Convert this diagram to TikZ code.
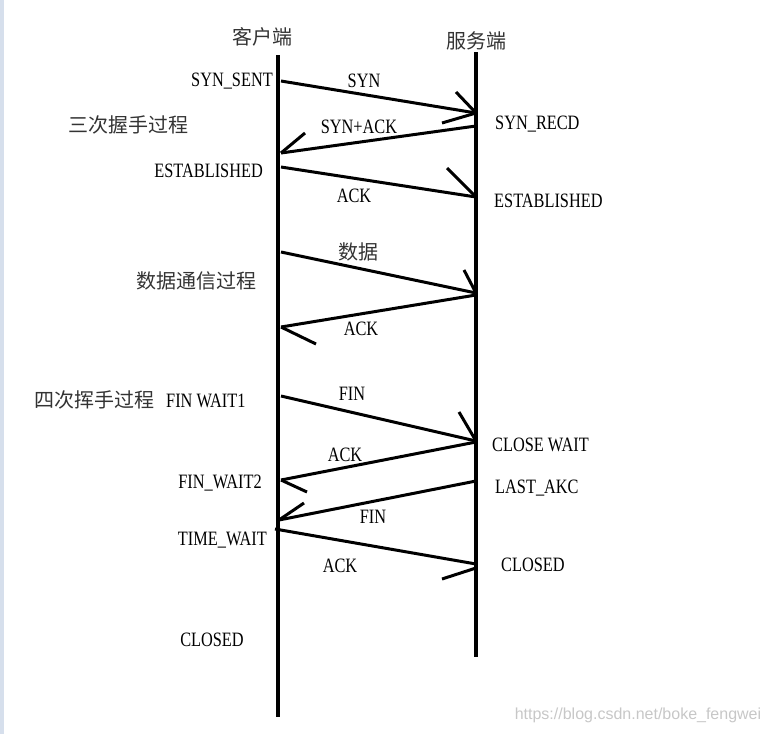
\documentclass[tikz,border=0pt]{standalone}
\usepackage{fontspec}
\newfontfamily\latinfont[FakeStretch=0.8]{Liberation Serif}
\newfontfamily\cjkfont{Noto Sans CJK SC}
\newfontfamily\markfont{Liberation Sans}
\definecolor{stripblue}{RGB}{214,223,236}
\begin{document}
\begin{tikzpicture}[x=1pt, y=-1pt,
    every node/.style={inner sep=0pt, font=\latinfont\fontsize{20.4}{24}\selectfont},
    life/.style={line width=3.6pt},
    msg/.style={line width=3pt},
    cjk/.style={font=\cjkfont\fontsize{20}{24}\selectfont, text=black!80}]
    \useasboundingbox (0,0) rectangle (768,734);
    \fill[stripblue] (0,0) rectangle (4,734);

    % lifelines
    \coordinate (Ctop) at (278,55);
    \coordinate (Cbot) at (278,717);
    \coordinate (Stop) at (476,52);
    \coordinate (Sbot) at (476,657);
    \draw[life] (Ctop) -- (Cbot);
    \draw[life] (Stop) -- (Sbot);
    \node[cjk] (client) at (262,37) {客户端};
    \node[cjk] (server) at (476,41) {服务端};

    % handshake
    \coordinate (c1) at (281,81);  \coordinate (s1) at (476,113);
    \coordinate (s2) at (476,126); \coordinate (c2) at (281,153);
    \coordinate (c3) at (281,167); \coordinate (s3) at (476,197);
    \draw[msg] (c1) -- (s1);
    \draw[msg] (s1) -- ++(-20,-21);
    \draw[msg] (s1) -- ++(-34,10);
    \draw[msg] (s2) -- (c2);
    \draw[msg] (c2) -- ++(24,-20);
    \draw[msg] (c3) -- (s3);
    \draw[msg] (s3) -- ++(-29,-29);
    \node[anchor=base east] (synsent) at (273,86) {SYN\_SENT};
    \node[anchor=base] (syn) at (364,87) {SYN};
    \node[cjk] (three) at (128,125) {三次握手过程};
    \node[anchor=base] (synack) at (359,133) {SYN+ACK};
    \node[anchor=base west] (synrecd) at (495,129) {SYN\_RECD};
    \node[anchor=base east] (estabc) at (263,177) {ESTABLISHED};
    \node[anchor=base] (ack1) at (354,202) {ACK};
    \node[anchor=base west] (estabs) at (494,207) {ESTABLISHED};

    % data
    \coordinate (c4) at (281,252); \coordinate (s4) at (476,293);
    \coordinate (s5) at (476,295); \coordinate (c5) at (281,327);
    \draw[msg] (c4) -- (s4);
    \draw[msg] (s4) -- ++(-12,-23);
    \draw[msg] (s5) -- (c5);
    \draw[msg] (c5) -- ++(35,17);
    \node[cjk] (data) at (358,252) {数据};
    \node[cjk] (datacomm) at (196,281) {数据通信过程};
    \node[anchor=base] (ack2) at (361,335) {ACK};

    % teardown
    \coordinate (c6) at (281,396); \coordinate (s6) at (476,441);
    \coordinate (s7) at (476,442); \coordinate (c7) at (281,480);
    \coordinate (s8) at (476,481); \coordinate (c8) at (279,520);
    \coordinate (c9) at (275,529); \coordinate (s9) at (476,564);
    \draw[msg] (c6) -- (s6);
    \draw[msg] (s6) -- ++(-17,-29);
    \draw[msg] (s7) -- (c7);
    \draw[msg] (c7) -- ++(26,12);
    \draw[msg] (s8) -- (c8);
    \draw[msg] (c8) -- ++(25,-17);
    \draw[msg] (c9) -- (s9);
    \draw[msg] ([yshift=-4pt]s9) -- ++(-34,11);
    \node[anchor=base west] (four) at (34,407)
        {{\color{black!80}\cjkfont\fontsize{20}{24}\selectfont 四次挥手过程}\hspace{12pt}FIN WAIT1};
    \node[anchor=base] (fin1) at (352,400) {FIN};
    \node[anchor=base west] (closewait) at (492,451) {CLOSE WAIT};
    \node[anchor=base] (ack3) at (345,461) {ACK};
    \node[anchor=base east] (finwait) at (262,488) {FIN\_WAIT2};
    \node[anchor=base west] (lastack) at (495,493) {LAST\_AKC};
    \node[anchor=base] (fin2) at (373,523) {FIN};
    \node[anchor=base east] (timewait) at (267,545) {TIME\_WAIT};
    \node[anchor=base] (ack4) at (340,572) {ACK};
    \node[anchor=base west] (closeds) at (501,571) {CLOSED};
    \node[anchor=base] (closedc) at (212,646) {CLOSED};

    \node[font=\markfont\fontsize{16}{18}\selectfont, text=black!22] (mark) at (638,715.5) {https://blog.csdn.net/boke\_fengwei};
\end{tikzpicture}
\end{document}
